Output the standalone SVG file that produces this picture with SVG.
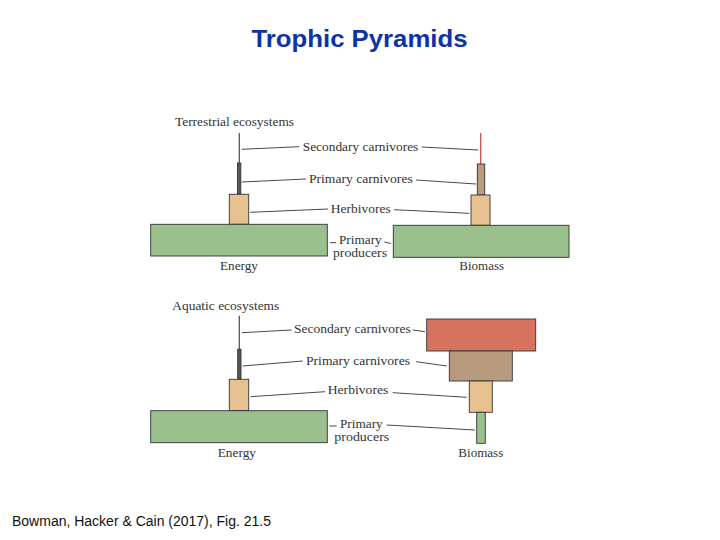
<svg xmlns="http://www.w3.org/2000/svg" width="720" height="540" viewBox="0 0 720 540">
<style>
.t{font-family:"Liberation Serif","Times New Roman",serif;font-size:13px;fill:#333}
.s{font-size:11.5px}
.title{font-family:"Liberation Sans",Arial,sans-serif;font-size:24px;font-weight:bold;fill:#0d32a8}
.foot{font-family:"Liberation Sans",Arial,sans-serif;font-size:14px;fill:#111}
.box{stroke:#333;stroke-width:0.9}
.g{fill:#99c08d}.h{fill:#e8c190}.pc{fill:#b89a7e}.sc{fill:#d5735f}.dk{fill:#5c5650}
.ld{fill:none;stroke:#333;stroke-width:0.9}
</style>
<rect width="720" height="540" fill="#fff"/>
<text class="title" x="251.5" y="46.5" textLength="216" lengthAdjust="spacingAndGlyphs">Trophic Pyramids</text>
<text class="foot" x="12" y="526" textLength="259" lengthAdjust="spacingAndGlyphs">Bowman, Hacker &amp; Cain (2017), Fig. 21.5</text>

<g id="terrestrial">
<text class="t" x="175" y="126" textLength="119" lengthAdjust="spacingAndGlyphs">Terrestrial ecosystems</text>
<g id="t-energy">
<line x1="239.3" y1="133" x2="239.3" y2="163" stroke="#555" stroke-width="1.3"/>
<rect class="box dk" x="237.5" y="163" width="3.3" height="31"/>
<rect class="box h" x="229.3" y="194.3" width="19.4" height="30"/>
<rect class="box g" x="150.7" y="224.3" width="176.6" height="31.7"/>
<text class="t" x="220" y="270" textLength="38" lengthAdjust="spacingAndGlyphs">Energy</text>
</g>
<g id="t-biomass">
<line x1="480.7" y1="133" x2="480.7" y2="164" stroke="#c0504d" stroke-width="1.3"/>
<rect class="box pc" x="477.3" y="164" width="7.4" height="31"/>
<rect class="box h" x="471" y="195" width="19" height="30.3"/>
<rect class="box g" x="393.3" y="225.3" width="175.7" height="32"/>
<text class="t" x="459.3" y="270" textLength="44.7" lengthAdjust="spacingAndGlyphs">Biomass</text>
</g>
<g id="t-labels">
<text class="t" x="302.7" y="151" textLength="115.6" lengthAdjust="spacingAndGlyphs">Secondary carnivores</text>
<text class="t" x="309" y="183" textLength="103.7" lengthAdjust="spacingAndGlyphs">Primary carnivores</text>
<text class="t" x="330.7" y="213" textLength="60" lengthAdjust="spacingAndGlyphs">Herbivores</text>
<text class="t s" x="339" y="244" textLength="42.7" lengthAdjust="spacingAndGlyphs">Primary</text>
<text class="t s" x="333" y="257" textLength="54" lengthAdjust="spacingAndGlyphs">producers</text>
</g>
</g>

<g id="aquatic">
<text class="t" x="172.3" y="310" textLength="107" lengthAdjust="spacingAndGlyphs">Aquatic ecosystems</text>
<g id="a-energy">
<line x1="239.3" y1="315.7" x2="239.3" y2="349.3" stroke="#555" stroke-width="1.3"/>
<rect class="box dk" x="237.7" y="349.3" width="3.3" height="30"/>
<rect class="box h" x="229.3" y="379.3" width="19.4" height="31.4"/>
<rect class="box g" x="150.7" y="410.7" width="176.6" height="32"/>
<text class="t" x="217.7" y="457" textLength="38.3" lengthAdjust="spacingAndGlyphs">Energy</text>
</g>
<g id="a-biomass">
<rect class="box sc" x="426.7" y="319" width="109" height="32"/>
<rect class="box pc" x="449.3" y="351" width="63" height="30"/>
<rect class="box h" x="469.3" y="381" width="23" height="31.3"/>
<rect class="box g" x="476.7" y="412.3" width="8.6" height="31"/>
<text class="t" x="458.3" y="457" textLength="45" lengthAdjust="spacingAndGlyphs">Biomass</text>
</g>
<g id="a-labels">
<text class="t" x="294" y="333.3" textLength="116.7" lengthAdjust="spacingAndGlyphs">Secondary carnivores</text>
<text class="t" x="306" y="365" textLength="104" lengthAdjust="spacingAndGlyphs">Primary carnivores</text>
<text class="t" x="327.7" y="394" textLength="60.6" lengthAdjust="spacingAndGlyphs">Herbivores</text>
<text class="t s" x="340" y="428.3" textLength="42.7" lengthAdjust="spacingAndGlyphs">Primary</text>
<text class="t s" x="334.3" y="441" textLength="55" lengthAdjust="spacingAndGlyphs">producers</text>
</g>
</g>

<g id="connectors">
<path class="ld" d="M241.7 149.3 L299.3 146.7"/>
<path class="ld" d="M421.7 147 L478.3 150"/>
<path class="ld" d="M241.7 182 L306 179"/>
<path class="ld" d="M416 180 L476 184"/>
<path class="ld" d="M250 212.3 L328 209"/>
<path class="ld" d="M394 209.7 L469.3 213.3"/>
<path class="ld" d="M330 242.7 L336 242.7"/>
<path class="ld" d="M384.3 242 L391 243.5"/>
<path class="ld" d="M241.7 332.7 L291.7 330"/>
<path class="ld" d="M412.7 330 L425 331.7"/>
<path class="ld" d="M242.7 366 L302.7 361"/>
<path class="ld" d="M416 361.7 L446.7 366"/>
<path class="ld" d="M250.7 396.7 L325 391.7"/>
<path class="ld" d="M392.7 392.7 L466.7 397.3"/>
<path class="ld" d="M329.3 426 L336.7 426"/>
<path class="ld" d="M386.7 425 L475 430"/>
</g>
</svg>
